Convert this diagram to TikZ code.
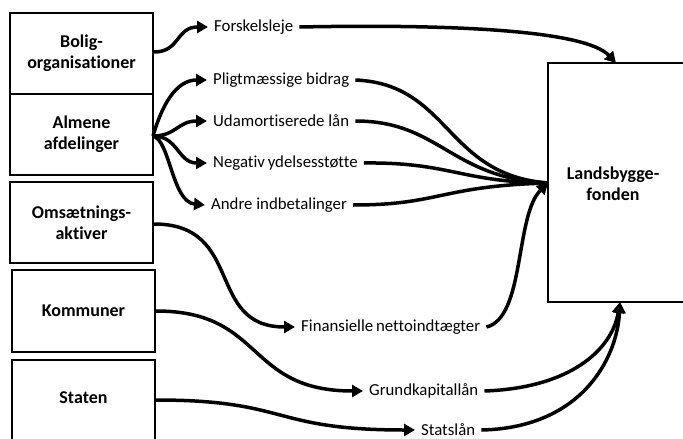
\documentclass[tikz,border=0pt]{standalone}
\usepackage{fontspec}
\setmainfont{Carlito}[Ligatures={NoCommon}]
\usetikzlibrary{arrows.meta}
\tikzset{
  srcbox/.style={draw, line width=2pt, minimum width=143pt, minimum height=81pt, inner sep=0pt,
    align=center, font=\fontsize{18}{21}\selectfont\bfseries},
  lbl/.style={inner xsep=6pt, inner ysep=1pt, font=\fontsize{16.8}{19}\selectfont, anchor=west},
  flow/.style={line width=3.5pt, -{Triangle[length=11pt,width=12pt]}},
  plain/.style={line width=3.5pt},
}
\begin{document}
\begin{tikzpicture}[x=1pt,y=-1pt]
\useasboundingbox (0,0) rectangle (683,439);
% source boxes
\node[srcbox] (b1) at (81.5,53.5) {Bolig-\\organisationer};
\node[srcbox] (b2) at (81.5,134.5) {Almene\\afdelinger};
\node[srcbox] (b3) at (81.5,222.5) {Omsætnings-\\aktiver};
\node[srcbox, minimum height=82pt] (b4) at (83.5,311) {Kommuner};
\node[srcbox, minimum height=90pt] (b5) at (83.5,405) {};
\node[font=\fontsize{18}{21}\selectfont\bfseries] (b5t) at (83.5,398) {Staten};
% target box
\node[draw, line width=2pt, minimum width=154pt, minimum height=239pt, inner sep=0pt] (lf) at (625,182.5) {};
\node[align=center, font=\fontsize{18}{21}\selectfont\bfseries] (lft) at (613,184) {Landsbygge-\\fonden};
% labels
\node[lbl] (fo) at (208,27) {Forskelsleje};
\node[lbl] (pb) at (207,80) {Pligtmæssige bidrag};
\node[lbl] (ul) at (207,121) {Udamortiserede lån};
\node[lbl] (ny) at (207,163) {Negativ\,ydelsesstøtte};
\node[lbl] (ai) at (205,205) {Andre indbetalinger};
\node[lbl] (fn) at (295,327) {Finansielle\,nettoindtægter};
\node[lbl] (gk) at (363,391) {Grundkapitallån};
\node[lbl] (sl) at (415,430) {Statslån};
% anchor points
\coordinate (ao) at (153,136);
\coordinate (conv) at (548,183);
\coordinate (top) at (616,63);
\coordinate (bot) at (620,302);
% source -> label arrows
\draw[flow] (b1.east |- 0,52) .. controls (180,52) and (176,27) .. (fo.west);
\draw[flow] (ao) .. controls (162,105) and (176,80) .. (pb.west);
\draw[flow] (ao) .. controls (176,136) and (178,121) .. (ul.west);
\draw[flow] (ao) .. controls (178,136) and (178,163) .. (ny.west);
\draw[flow] (ao) .. controls (170,140) and (172,202) .. (ai.west);
\draw[flow] (b3.east |- 0,224) .. controls (245,224) and (205,327) .. (fn.west);
\draw[flow] (b4.east |- 0,311) .. controls (265,311) and (245,391) .. (gk.west);
\draw[flow] (b5.east |- 0,400) .. controls (290,400) and (270,430) .. (sl.west);
% label -> Landsbyggefonden
\draw[flow] (fo.east) .. controls (450,24) and (585,30) .. (top);
\draw[plain] (pb.east) .. controls (450,84) and (445,175) .. (conv);
\draw[plain] (ul.east) .. controls (440,121) and (450,178) .. (conv);
\draw[plain] (ny.east) .. controls (450,162) and (460,182) .. (conv);
\draw[plain] (ai.east) .. controls (440,205) and (440,186) .. (conv);
\draw[flow] (fn.east) .. controls (525,318) and (515,215) .. (conv);
\draw[flow] (gk.east) .. controls (570,388) and (612,350) .. (bot);
\draw[flow] (sl.east) .. controls (580,428) and (617,360) .. (bot);
\end{tikzpicture}
\end{document}
